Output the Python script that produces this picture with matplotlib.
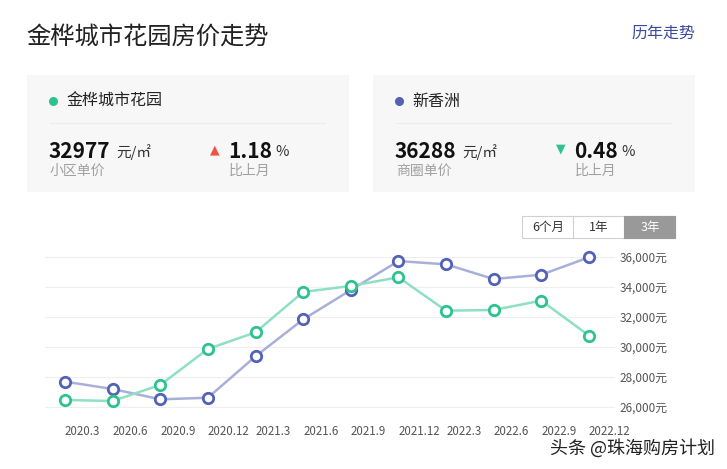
import matplotlib
matplotlib.use("Agg")
import matplotlib.pyplot as plt
from matplotlib.patches import Rectangle
from matplotlib.ticker import FuncFormatter

plt.rcParams['font.family'] = ['Noto Sans CJK SC', 'DejaVu Sans']

# ---------------- data ----------------
months = ["2020.3", "2020.6", "2020.9", "2020.12", "2021.3", "2021.6",
          "2021.9", "2021.12", "2022.3", "2022.6", "2022.9", "2022.12"]
estate_prices = [26470, 26400, 27470, 29870, 30980, 33670,
                 34070, 34650, 32420, 32470, 33090, 30760]
district_prices = [27690, 27200, 26510, 26620, 29380, 31840,
                   33800, 35730, 35510, 34530, 34820, 35980]
y_ticks = [26000, 28000, 30000, 32000, 34000, 36000]

estate_name = "金桦城市花园"
district_name = "新香洲"
estate_price = "32977"
district_price = "36288"
estate_change = "1.18"
district_change = "0.48"

W, H = 727, 469
fig = plt.figure(figsize=(W / 100, H / 100), dpi=100)
fig.patch.set_facecolor("white")


def fx(x):
    return x / W


def fy(y):
    return 1 - y / H


def ftext(x, y, s, **kw):
    return fig.text(fx(x), fy(y), s, **kw)


def frect(x0, y0, x1, y1, **kw):
    fig.patches.append(Rectangle((fx(x0), fy(y1)), fx(x1) - fx(x0), fy(y0) - fy(y1),
                                 transform=fig.transFigure, **kw))


# title
ftext(26, 37, "金桦城市花园房价走势", fontsize=17.5, color="#222222", va="center")
ftext(695, 33, "历年走势", fontsize=11.5, color="#3a4a9c", va="center", ha="right")

GREEN_M = "#2ec38e"
GREEN_L = "#8fe0c3"
BLUE_M = "#5263b7"
BLUE_L = "#a8b0da"

# info cards
cards = [
    (27, 349, estate_name, GREEN_M, estate_price, "小区单价", estate_change, "up"),
    (373, 695, district_name, BLUE_M, district_price, "商圈单价", district_change, "down"),
]
for x0, x1, name, col, price, plabel, change, direction in cards:
    frect(x0, 75, x1, 192, facecolor="#f7f7f7", edgecolor="none")
    fig.add_artist(plt.Line2D([fx(x0 + 26)], [fy(101)], marker="o", markersize=5.5,
                              color=col, lw=0, transform=fig.transFigure))
    ftext(x0 + 39, 101, name, fontsize=11.5, color="#222222", va="center")
    fig.add_artist(plt.Line2D([fx(x0 + 23), fx(x1 - 24)], [fy(123), fy(123)],
                              color="#ececec", lw=0.8, transform=fig.transFigure))
    ftext(x0 + 22, 151, price, fontsize=15, fontweight="bold",
          color="#111111", va="center")
    ftext(x0 + 89, 152, "元/㎡", fontsize=10.5, color="#333333", va="center")
    ftext(x0 + 23, 171, plabel, fontsize=10, color="#a0a0a0", va="center")
    if direction == "up":
        ftext(x0 + 183, 150, "▲", fontsize=9, color="#f0533f", va="center",
              family=["DejaVu Sans"])
    else:
        ftext(x0 + 183, 149, "▼", fontsize=9, color="#2ec38e", va="center",
              family=["DejaVu Sans"])
    ftext(x0 + 201, 151, change, fontsize=15, fontweight="bold", color="#111111", va="center")
    ftext(x0 + 248, 152, "%", fontsize=10.5, color="#333333", va="center")
    ftext(x0 + 202, 171, "比上月", fontsize=10, color="#a0a0a0", va="center")

# range buttons
frect(522, 216, 675, 238, facecolor="white", edgecolor="#d0d0d0", lw=0.8)
frect(624, 216, 675, 238, facecolor="#999999", edgecolor="#999999", lw=0.8)
fig.add_artist(plt.Line2D([fx(573), fx(573)], [fy(216), fy(238)],
                          color="#d0d0d0", lw=0.8, transform=fig.transFigure))
ftext(548, 227, "6个月", fontsize=9, color="#333333", ha="center", va="center")
ftext(599, 227, "1年", fontsize=9, color="#333333", ha="center", va="center")
ftext(650, 227, "3年", fontsize=9, color="white", ha="center", va="center")

# chart axes
ax_left, ax_right = 45, 615
ax_top, ax_bottom = 245, 415
ax = fig.add_axes([fx(ax_left), fy(ax_bottom), fx(ax_right) - fx(ax_left),
                   fy(ax_top) - fy(ax_bottom)])
x0p, step = 65, (589 - 65) / 11
ax.set_xlim((ax_left - x0p) / step, (ax_right - x0p) / step)
vpp = 2000 / 30
ax.set_ylim(26000 - (ax_bottom - 407) * vpp, 36000 + (257 - ax_top) * vpp)

for v in y_ticks:
    ax.axhline(v, color="#efefef", lw=0.8, zorder=0)

xs = list(range(len(months)))
ax.plot(xs, district_prices, color=BLUE_L, lw=1.8, zorder=2,
        marker="o", markersize=7.5, markerfacecolor="white",
        markeredgecolor=BLUE_M, markeredgewidth=2)
ax.plot(xs, estate_prices, color=GREEN_L, lw=1.8, zorder=3,
        marker="o", markersize=7.5, markerfacecolor="white",
        markeredgecolor=GREEN_M, markeredgewidth=2)

for s in ax.spines.values():
    s.set_visible(False)
ax.set_yticks(y_ticks)
ax.yaxis.tick_right()
ax.yaxis.set_major_formatter(FuncFormatter(lambda v, p: f"{int(v):,}元"))
ax.tick_params(axis="y", length=0, pad=3, labelsize=8.5, labelcolor="#555555")
ax.set_xticks(xs)
ax.set_xticklabels(months)
ax.tick_params(axis="x", length=0, pad=7, labelsize=8.3, labelcolor="#555555")
for lbl in ax.get_xticklabels():
    lbl.set_horizontalalignment("left")
ax.set_facecolor("none")

# watermark
ftext(715, 448, "头条 @珠海购房计划", fontsize=13, color="#222222", ha="right", va="center")

fig.savefig("out.png", dpi=100)
